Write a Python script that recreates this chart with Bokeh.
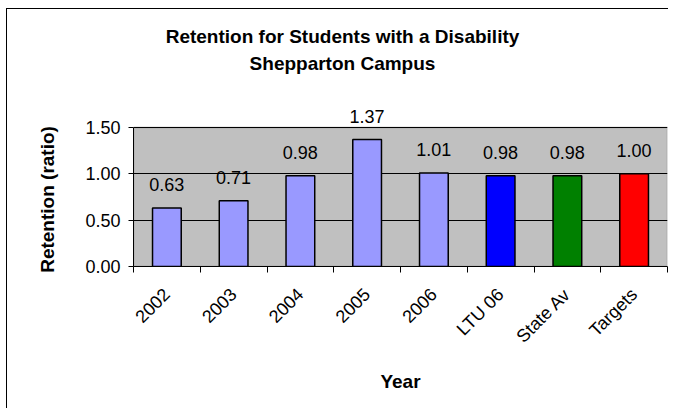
import math
from bokeh.plotting import figure
from bokeh.models import (ColumnDataSource, Range1d, FixedTicker, BoxAnnotation,
                          Label, LabelSet, NumeralTickFormatter)
from bokeh.core.properties import value
from bokeh.embed import file_html
from bokeh.resources import INLINE

categories = ["2002", "2003", "2004", "2005", "2006", "LTU 06", "State Av", "Targets"]
retention = [0.63, 0.71, 0.98, 1.37, 1.01, 0.98, 0.98, 1.00]
bar_colors = ["#9999FF", "#9999FF", "#9999FF", "#9999FF", "#9999FF", "#0000FF", "#008000", "#FF0000"]
y_ticks = [0.0, 0.5, 1.0, 1.5]
title_line1 = "Retention for Students with a Disability"
title_line2 = "Shepparton Campus"
y_title = "Retention (ratio)"
x_title = "Year"

FONT = "Liberation Sans"

# layout (pixels)
W, H = 668, 408
LEFT, RIGHT, BOTTOM = 133, 1, 142
FRAME_H = H - BOTTOM            # frame runs from the top of the figure to the x axis
PLOT_H = 139                    # height of the grey plotting area
Y_TITLE_PAD = 25                # invisible padding so the y title centres on the grey area

n = len(categories)
slot = list(range(n))                       # category index -> slot position
edges = [i - 0.5 for i in range(n + 1)]     # slot boundaries for tick marks

source = ColumnDataSource(dict(x=slot, cat=categories, val=retention, color=bar_colors,
                               label=[f"{v:.2f}" for v in retention]))

y_top = y_ticks[-1] * FRAME_H / PLOT_H
p = figure(width=W, height=H,
           x_range=Range1d(-0.5, n - 0.5),
           y_range=Range1d(y_ticks[0], y_top),
           output_backend="svg", toolbar_location=None, title=None,
           min_border_left=LEFT, min_border_right=RIGHT,
           min_border_top=0, min_border_bottom=BOTTOM)

# chart-area border (left and top edges, as in the reference)
p.styles = {
    "background": "linear-gradient(#000, #000) 6px 8px / 1px 100% no-repeat, "
                  "linear-gradient(#000, #000) 6px 8px / 100% 1px no-repeat, #ffffff",
}
p.border_fill_alpha = 0
p.background_fill_alpha = 0
p.outline_line_color = None

# grey plotting area from 0 to the top tick
plot_area = BoxAnnotation(bottom=y_ticks[0], top=y_ticks[-1], fill_color="#C0C0C0", fill_alpha=1,
                          line_color="#808080", line_width=2, level="underlay")
p.center = [plot_area] + list(p.center)

p.vbar(x="x", top="val", width=0.43, source=source,
       fill_color="color", line_color="black", line_width=1.5)

labels = LabelSet(x="x", y="val", text="label", source=source, y_offset=17,
                  text_align="center", text_baseline="alphabetic",
                  text_font=value(FONT), text_font_size="18px", text_color="black")
p.add_layout(labels)

# titles (screen units, measured from the frame's bottom-left corner)
for txt, ty in [(title_line1, FRAME_H - 36), (title_line2, FRAME_H - 63)]:
    p.add_layout(Label(x=342 - LEFT, y=ty, x_units="screen", y_units="screen", text=txt,
                       text_align="center", text_baseline="middle", text_font=FONT,
                       text_font_size="19px", text_font_style="bold", text_color="black"))

# y axis
yax = p.yaxis[0]
yax.bounds = (y_ticks[0], y_ticks[-1])
yax.ticker = FixedTicker(ticks=y_ticks)
yax.formatter = NumeralTickFormatter(format="0.00")
yax.major_tick_out = 5
yax.major_tick_in = 0
yax.minor_tick_out = 0
yax.minor_tick_in = 0
yax.axis_line_color = "black"
yax.major_tick_line_color = "black"
yax.major_label_text_font = FONT
yax.major_label_text_font_size = "18px"
yax.major_label_text_color = "black"
yax.major_label_standoff = 8
yax.axis_label = y_title + "\u00a0" * Y_TITLE_PAD
yax.axis_label_text_font = FONT
yax.axis_label_text_font_size = "19px"
yax.axis_label_text_font_style = "bold"
yax.axis_label_text_color = "black"
yax.axis_label_standoff = 24

p.ygrid.ticker = FixedTicker(ticks=y_ticks)
p.ygrid.grid_line_color = "black"
p.ygrid.grid_line_width = 1
p.xgrid.visible = False

# x axis: tick marks at slot edges, category labels at slot centres
xax = p.xaxis[0]
xax.ticker = FixedTicker(ticks=slot, minor_ticks=edges)
xax.major_label_overrides = {i: c for i, c in zip(slot, categories)}
xax.major_tick_out = 0
xax.major_tick_in = 0
xax.minor_tick_out = 6
xax.minor_tick_in = 0
xax.minor_tick_line_color = "black"
xax.axis_line_color = "black"
xax.major_label_orientation = math.pi / 4
xax.major_label_text_font = FONT
xax.major_label_text_font_size = "18px"
xax.major_label_text_color = "black"
xax.major_label_standoff = 19
xax.axis_label = x_title
xax.axis_label_text_font = FONT
xax.axis_label_text_font_size = "19px"
xax.axis_label_text_font_style = "bold"
xax.axis_label_text_color = "black"
xax.axis_label_standoff = 14

open("out.html", "w").write(file_html(p, INLINE))
